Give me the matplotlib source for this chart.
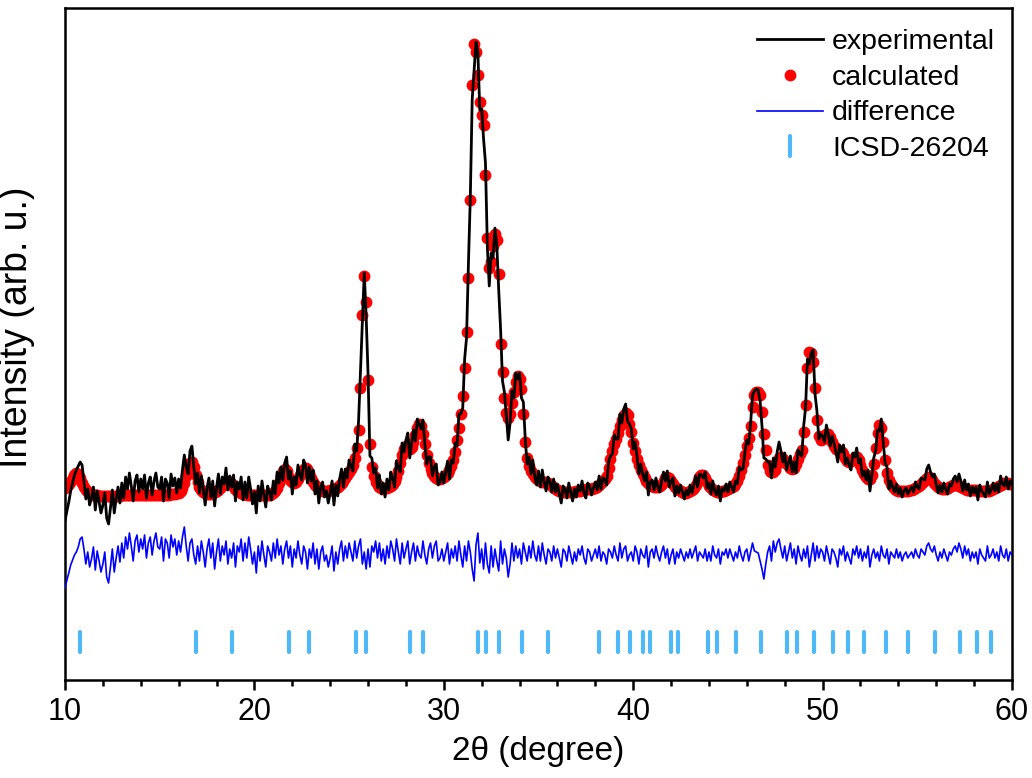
import numpy as np
import matplotlib.pyplot as plt
from matplotlib.markers import MarkerStyle
from matplotlib.ticker import MultipleLocator


# Definitions/Config

plt.rcParams["font.family"] = ["Liberation Sans", "DejaVu Sans"]

# scan grid, 0.1 degree steps from 10 to 60
Two_Theta = np.round(np.arange(10.0, 60.05, 0.1), 1)

# calculated profile (arb. u.), one row per degree
Calculated = [
    12, 14, 16, 19, 22, 25, 27, 26, 22, 17,
    13, 10, 8, 7, 6, 5, 5, 5, 4, 4,
    4, 4, 4, 4, 4, 4, 4, 4, 4, 4,
    5, 5, 5, 5, 5, 5, 5, 5, 5, 5,
    5, 5, 5, 5, 5, 5, 5, 5, 5, 5,
    5, 5, 5, 5, 5, 5, 6, 6, 6, 7,
    7, 9, 12, 17, 24, 32, 37, 38, 33, 25,
    18, 13, 10, 8, 7, 6, 6, 6, 7, 8,
    9, 10, 12, 14, 16, 18, 19, 18, 16, 13,
    11, 9, 8, 7, 6, 6, 5, 5, 5, 5,
    5, 5, 5, 5, 5, 5, 5, 5, 5, 6,
    7, 9, 12, 17, 24, 29, 31, 29, 24, 20,
    18, 17, 18, 21, 25, 29, 31, 32, 31, 27,
    22, 18, 15, 13, 11, 10, 9, 9, 9, 9,
    10, 10, 11, 12, 13, 15, 17, 19, 22, 25,
    28, 31, 35, 42, 52, 70, 112, 185, 224, 198,
    120, 56, 33, 24, 18, 15, 13, 12, 11, 12,
    12, 13, 14, 16, 19, 23, 29, 37, 45, 51,
    54, 53, 51, 53, 58, 65, 72, 76, 74, 66,
    56, 45, 37, 31, 27, 24, 22, 21, 21, 22,
    23, 25, 27, 30, 34, 40, 48, 60, 72, 86,
    104, 132, 168, 222, 300, 415, 456, 448, 425, 398,
    385, 375, 325, 262, 232, 238, 254, 266, 260, 226,
    156, 128, 102, 87, 82, 86, 97, 108, 118, 124,
    121, 111, 86, 58, 42, 34, 29, 26, 23, 21,
    20, 19, 18, 18, 18, 17, 16, 14, 12, 11,
    10, 9, 9, 8, 8, 8, 8, 8, 8, 8,
    9, 9, 9, 10, 10, 11, 11, 11, 11, 12,
    12, 13, 15, 17, 19, 21, 24, 32, 41, 49,
    56, 61, 67, 74, 80, 85, 87, 85, 76, 68,
    57, 49, 41, 35, 30, 26, 22, 19, 17, 15,
    14, 13, 13, 13, 14, 16, 19, 22, 23, 22,
    19, 16, 13, 11, 10, 9, 8, 7, 7, 8,
    9, 10, 12, 15, 19, 23, 25, 25, 22, 18,
    14, 12, 10, 9, 8, 8, 8, 9, 9, 10,
    11, 12, 13, 14, 16, 19, 24, 30, 37, 45,
    54, 62, 74, 93, 105, 108, 108, 105, 88, 66,
    50, 35, 29, 28, 28, 30, 36, 42, 43, 41,
    38, 36, 34, 32, 31, 32, 36, 41, 46, 50,
    68, 95, 132, 148, 147, 138, 112, 80, 64, 60,
    61, 64, 66, 66, 63, 58, 54, 51, 50, 49,
    48, 46, 42, 39, 38, 39, 41, 43, 43, 40,
    35, 30, 26, 23, 21, 21, 25, 36, 52, 67,
    75, 72, 58, 40, 27, 20, 16, 13, 11, 10,
    9, 9, 9, 9, 9, 9, 10, 10, 11, 12,
    13, 14, 16, 18, 20, 22, 23, 22, 20, 17,
    15, 13, 12, 11, 11, 11, 12, 13, 14, 15,
    15, 15, 14, 13, 12, 11, 10, 10, 10, 10,
    10, 10, 9, 9, 9, 9, 9, 9, 9, 10,
    11, 12, 13, 14, 15, 16, 17, 17, 17, 16,
    16,
]

Residual = [
    -33, -25, -18, -10, -5, 0, 3, 8, 16, 18,
    6, -9, 3, -12, -4, 8, -15, 4, -6, -17,
    -9, 3, -22, -28, -12, 6, -17, -3, 9, -7,
    12, -3, 18, 6, 22, 9, -6, 14, 20, 3,
    16, 6, 20, -3, 12, 18, 0, 14, 22, 8,
    6, 18, -6, 16, 12, -3, 20, 8, 16, 0,
    14, 3, 18, 28, 9, -6, 12, 16, 0, -9,
    9, -6, 14, 3, -12, 6, 16, -3, 12, -14,
    3, 16, -6, 9, 0, 14, -9, 6, -3, 12,
    -12, 9, 3, 16, -6, 12, -3, 18, 6, -9,
    3, -18, 9, -6, 14, 0, -12, 9, 3, -6,
    12, -3, 16, 0, 9, -9, 6, 14, -3, 9,
    -12, 6, -3, 14, 0, -9, 9, 3, -14, 6,
    -3, 12, -9, 6, -14, 3, 9, -6, 0, -12,
    -3, 9, -16, 3, -9, 6, 14, -6, 9, -3,
    12, 3, -6, 14, -3, 9, 16, -9, 3, -14,
    6, -12, 9, 3, 14, -3, 12, -6, 6, -9,
    9, -3, 14, 6, -6, 16, 3, -9, 12, -3,
    6, 14, -9, 3, 12, -6, 9, 0, -3, 14,
    0, -9, 6, 12, -3, 9, 14, -6, -3, 6,
    -6, 3, 12, -9, 6, -3, 9, -6, 14, 0,
    -12, 9, -6, 14, 3, -14, -26, 10, 22, -8,
    6, -14, 12, -9, -18, 9, -12, 6, -6, -16,
    14, -9, 6, -3, -22, -9, 12, -6, 9, -3,
    6, -9, 12, 3, -6, 9, -3, 14, 0, -6,
    9, -6, 12, 0, -9, 6, 3, -6, 9, -3,
    6, -3, -12, 6, 3, -6, 9, 0, -9, 3,
    -6, 6, 0, 9, -3, -9, 6, 3, -6, 0,
    6, -3, 9, -6, 3, 0, -9, 6, 3, -3,
    9, 0, -6, 12, -3, 6, 9, -6, 0, 3,
    -6, 9, 3, -9, 6, 0, -3, 9, -12, 3,
    6, -3, 9, 0, -6, 3, 9, -3, 6, -9,
    0, 6, -9, 3, -3, 6, 0, -6, 3, -3,
    6, -3, 3, 9, -6, 3, 0, -3, 6, -6,
    3, -6, 9, 0, -3, 6, -9, 3, 0, 6,
    -3, 6, 0, -6, 3, -3, 9, 0, -6, 3,
    6, -6, 3, 12, 4, 3, 2, -6, -14, -24,
    -9, 3, 9, -6, 14, 3, 12, 16, 6, -3,
    9, -6, 3, 12, -3, 6, -9, 9, 0, -6,
    6, -3, 9, -12, 0, 12, -6, 9, -3, 6,
    3, -6, 9, 0, -9, 6, 3, -3, -12, 6,
    0, 9, -6, 3, -3, -9, 6, 0, 9, -3,
    6, -6, 3, -3, 9, -12, 0, 6, -3, 3,
    -6, 9, 0, -3, 6, -9, 3, 0, -3, 6,
    -3, 3, -6, 0, 3, -3, 0, 3, -3, 6,
    0, -3, 6, 3, 0, 9, 12, 6, 3, 9,
    0, -6, 3, -3, 6, 0, -6, 3, 0, 6,
    9, 3, 12, 6, -3, 9, 0, 6, -6, 3,
    -3, 3, -9, 6, 0, -3, -6, 9, -3, 0,
    6, -3, 3, -6, 9, 0, -3, 6, -6, 3,
    0,
]

# ICSD-26204 reflection positions
Bragg_Positions = [10.81, 16.90, 18.81, 21.83, 22.90, 25.39, 25.91, 28.21,
                   28.92, 31.81, 32.23, 32.94, 34.11, 35.50, 38.22, 39.20,
                   39.84, 40.52, 40.91, 42.02, 42.34, 43.93, 44.45, 45.45,
                   46.75, 48.14, 48.66, 49.56, 50.57, 51.35, 52.16, 53.36,
                   54.52, 55.95, 57.25, 58.15, 58.87]

Diff_Offset = -55
Bragg_Level = -142


# Program

Calculated = np.array(Calculated, dtype=float)
Experimental = Calculated + np.array(Residual, dtype=float)
Difference = Experimental - Calculated + Diff_Offset

fig = plt.figure(figsize=(10.32, 7.78), dpi=100)
ax = fig.add_axes([65 / 1032, 98 / 778, 947 / 1032, 672 / 778])

ax.plot(Two_Theta, Calculated, linestyle="none", marker="o", markersize=7.5,
        color="#ff0000", label="calculated", zorder=2)
ax.plot(Two_Theta, Experimental, color="black", linewidth=2.0,
        label="experimental", zorder=3)
ax.plot(Two_Theta, Difference, color="#0000ff", linewidth=1.2,
        label="difference", zorder=3)
ax.plot(Bragg_Positions, [Bragg_Level] * len(Bragg_Positions), linestyle="none",
        marker=MarkerStyle("|", capstyle="round"), markersize=14.5,
        markeredgewidth=3.0, color="#4fb8f7", label="ICSD-26204", zorder=3)

ax.set_xlim(10, 60)
ax.set_ylim(-180, 492)
ax.set_yticks([])

ax.xaxis.set_major_locator(MultipleLocator(10))
ax.xaxis.set_minor_locator(MultipleLocator(2))
ax.tick_params(axis="x", which="major", direction="out", length=7, width=1.8,
               labelsize=22, pad=5)
ax.tick_params(axis="x", which="minor", direction="out", length=4, width=1.8)

for spine in ax.spines.values():
    spine.set_linewidth(1.8)

ax.set_xlabel("2θ (degree)", fontsize=24, labelpad=7)
ax.set_ylabel("Intensity (arb. u.)", fontsize=27)
ax.yaxis.set_label_coords(-0.032, 0.525)

handles, labels = ax.get_legend_handles_labels()
order = [1, 0, 2, 3]
ax.legend([handles[i] for i in order], [labels[i] for i in order],
          loc="upper right", bbox_to_anchor=(1.0, 0.994), frameon=False,
          fontsize=20.5, numpoints=1, handlelength=2.3, handletextpad=0.32,
          labelspacing=0.34, borderaxespad=0.2)

fig.savefig("out.png", dpi=100)
